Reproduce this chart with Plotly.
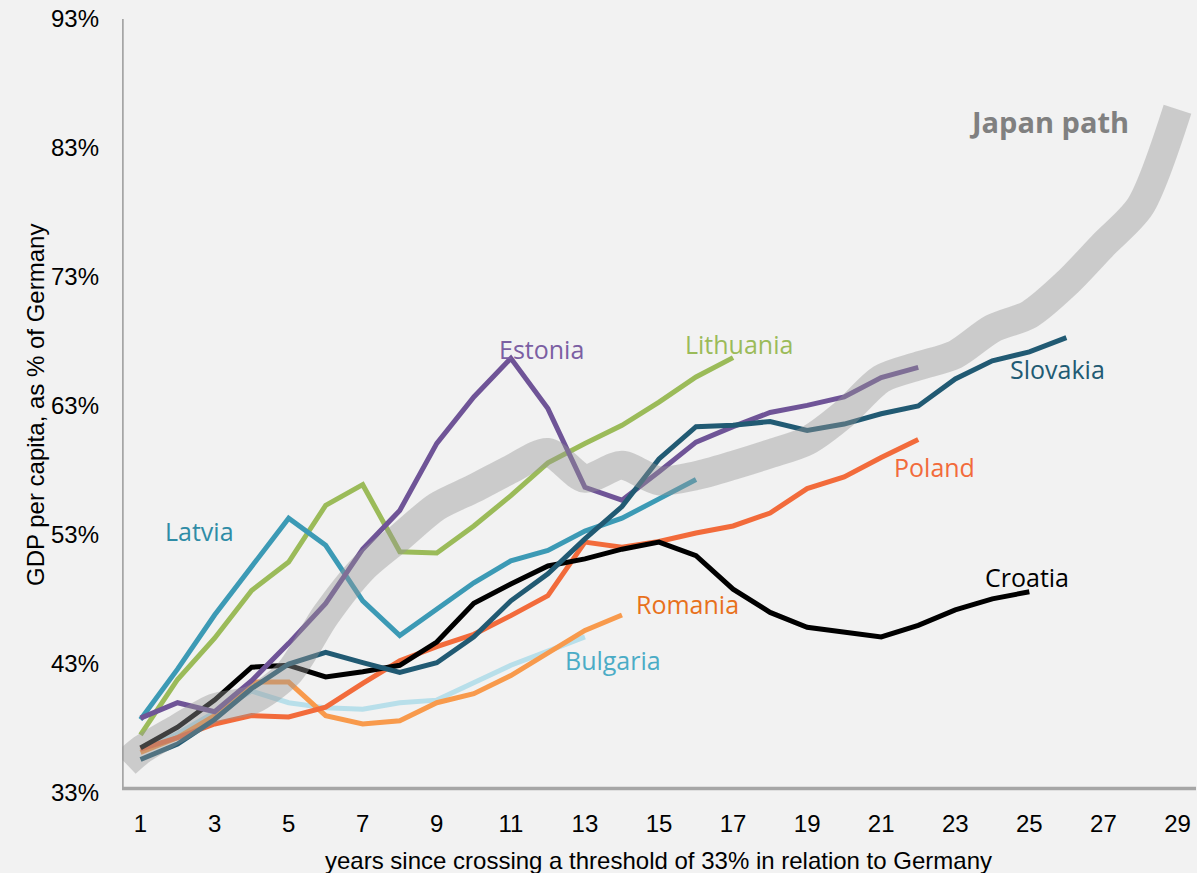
import plotly.graph_objects as go

# ---- data ----
latvia_x = list(range(1, 17))
latvia = [38.7, 42.6, 46.8, 50.6, 54.3, 52.2, 47.9, 45.2, 47.3, 49.3, 51.0, 51.8, 53.3, 54.3, 55.8, 57.3]

lithuania_x = list(range(1, 18))
lithuania = [37.5, 41.8, 45.0, 48.7, 50.9, 55.3, 56.9, 51.7, 51.6, 53.7, 56.05, 58.6, 60.1, 61.5, 63.3, 65.25, 66.75]

estonia_x = list(range(1, 23))
estonia = [38.8, 40.0, 39.3, 41.7, 44.6, 47.7, 51.9, 54.9, 60.1, 63.7, 66.7, 62.8, 56.7, 55.7, 57.9,
           60.2, 61.4, 62.5, 63.05, 63.7, 65.2, 66.0]

slovakia_x = list(range(1, 27))
slovakia = [35.6, 36.8, 38.7, 41.1, 43.0, 43.9, 43.1, 42.35, 43.1, 45.1, 47.9, 50.0, 52.7, 55.2, 58.9,
            61.4, 61.5, 61.8, 61.1, 61.6, 62.4, 63.0, 65.1, 66.5, 67.2, 68.3]

poland_x = list(range(1, 23))
poland = [36.4, 37.3, 38.35, 39.0, 38.9, 39.65, 41.5, 43.25, 44.35, 45.3, 46.75, 48.3, 52.45, 52.05, 52.5,
          53.15, 53.7, 54.7, 56.6, 57.5, 59.0, 60.4]

croatia_x = list(range(1, 26))
croatia = [36.5, 38.1, 40.2, 42.75, 42.9, 42.0, 42.4, 42.9, 44.7, 47.7, 49.2, 50.6, 51.15, 51.9, 52.45,
           51.4, 48.8, 47.0, 45.85, 45.5, 45.1, 46.0, 47.2, 48.05, 48.6]

romania_x = list(range(1, 15))
romania = [36.15, 37.3, 39.0, 41.6, 41.6, 39.0, 38.35, 38.6, 40.0, 40.7, 42.1, 43.8, 45.6, 46.8]

bulgaria_x = list(range(1, 14))
bulgaria = [36.3, 37.6, 39.25, 40.9, 40.0, 39.6, 39.5, 40.0, 40.2, 41.5, 42.9, 44.0, 45.1]

japan_x = [0.6] + list(range(1, 30))
japan = [35.3, 36.3, 38.0, 39.6, 40.2, 42.3, 46.8, 50.4, 52.8, 55.2, 56.6, 58.1, 59.4, 57.4, 58.4, 57.2,
         57.6, 58.4, 59.3, 60.3, 62.4, 65.1, 66.1, 67.0, 69.0, 70.1, 72.5, 75.5, 78.5, 86.0]

x_ticks = list(range(1, 30, 2))
y_ticks = [33, 43, 53, 63, 73, 83, 93]
y_tick_text = [f"{v}%" for v in y_ticks]

x_title = "years since crossing a threshold of 33% in relation to Germany"
y_title = "GDP per capita, as % of Germany"

series = [
    ("Bulgaria", bulgaria_x, bulgaria, "#b8dfea"),
    ("Romania", romania_x, romania, "#f89a4c"),
    ("Poland", poland_x, poland, "#f26b3b"),
    ("Croatia", croatia_x, croatia, "#000000"),
    ("Lithuania", lithuania_x, lithuania, "#9bbb59"),
    ("Latvia", latvia_x, latvia, "#3c9ab5"),
    ("Estonia", estonia_x, estonia, "#6f5497"),
    ("Slovakia", slovakia_x, slovakia, "#215a73"),
]

labels = [
    ("Latvia", 2.6, 53.3, "#2f8ca6"),
    ("Estonia", 11.84, 67.45, "#7b5fa3"),
    ("Lithuania", 17.16, 67.8, "#9bbb59"),
    ("Slovakia", 25.76, 65.9, "#215a73"),
    ("Poland", 22.43, 58.3, "#f26b3b"),
    ("Croatia", 24.95, 49.75, "#000000"),
    ("Romania", 15.76, 47.66, "#e8711c"),
    ("Bulgaria", 13.76, 43.3, "#4bacc6"),
]

W, H = 1197, 873
ML, MR, MT, MB = 122, 1, 19, 80
PW, PH = W - ML - MR, H - MT - MB

fig = go.Figure()
for name, xs, ys, col in series:
    fig.add_trace(go.Scatter(x=xs, y=ys, mode="lines", name=name,
                             line=dict(color=col, width=5), hoverinfo="skip"))

fig.add_trace(go.Scatter(x=japan_x, y=japan, mode="lines", name="Japan path",
                         line=dict(color="rgba(150,150,150,0.42)", width=29, shape="spline", smoothing=0.8),
                         hoverinfo="skip"))

for text, lx, ly, col in labels:
    fig.add_annotation(x=lx, y=ly, text=text, showarrow=False,
                       xanchor="center", yanchor="middle",
                       font=dict(family="Open Sans", size=25, color=col))

fig.add_annotation(x=25.54, y=85.05, text="<b>Japan path</b>", showarrow=False,
                   xanchor="center", yanchor="middle",
                   font=dict(family="Open Sans", size=29, color="#808080"))

# axis titles
fig.add_annotation(xref="paper", yref="paper", x=(658 - ML) / PW, y=-(861 - 794) / PH,
                   xanchor="center", yanchor="middle",
                   text=x_title, showarrow=False,
                   font=dict(family="Liberation Sans", size=24, color="#000000"))
fig.add_annotation(xref="paper", yref="paper", x=-(ML - 36) / PW, y=(794 - 406) / PH,
                   xanchor="center", yanchor="middle",
                   text=y_title, textangle=-90, showarrow=False,
                   font=dict(family="Liberation Sans", size=24, color="#000000"))

# axis lines
fig.add_shape(type="line", xref="x", yref="y", x0=0.5, x1=29.5, y0=33.35, y1=33.35,
              line=dict(color="#a6a6a6", width=3.5), layer="below")
fig.add_shape(type="line", xref="x", yref="y", x0=0.5, x1=0.5, y0=33.35, y1=93,
              line=dict(color="#a6a6a6", width=3.5), layer="below")

fig.update_layout(
    width=W, height=H,
    margin=dict(l=ML, r=MR, t=MT, b=MB),
    paper_bgcolor="#f2f2f2", plot_bgcolor="#f2f2f2",
    showlegend=False,
    font=dict(family="Liberation Sans", size=24, color="#000000"),
)
fig.update_xaxes(range=[0.5, 29.5], tickmode="array", tickvals=x_ticks,
                 showgrid=False, zeroline=False, showline=False,
                 ticks="", ticklabelstandoff=14,
                 tickfont=dict(family="Liberation Sans", size=24, color="#000000"))
fig.update_yaxes(range=[33, 93], tickmode="array", tickvals=y_ticks, ticktext=y_tick_text,
                 showgrid=False, zeroline=False, showline=False,
                 ticks="", ticklabelstandoff=22,
                 tickfont=dict(family="Liberation Sans", size=24, color="#000000"))

fig.write_html("out.html", config={"displayModeBar": False},
               post_script="document.body.style.margin='0';document.body.style.overflow='hidden';document.body.style.background='#f2f2f2';")
